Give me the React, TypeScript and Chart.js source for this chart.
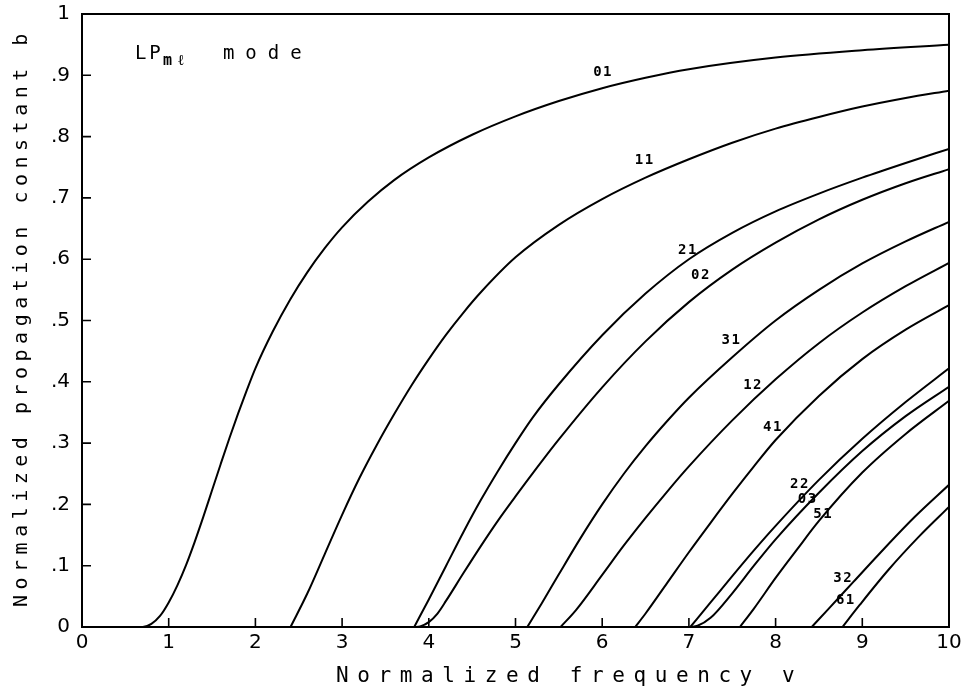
import React, { useEffect, useRef } from 'react';
import { Chart, registerables } from 'chart.js';

Chart.register(...registerables);

// ---- axis ticks ----
const xTickValues = [0, 1, 2, 3, 4, 5, 6, 7, 8, 9, 10];
const yTickLabels = ['0', '.1', '.2', '.3', '.4', '.5', '.6', '.7', '.8', '.9', '1'];

// ---- LP mode curves (normalized frequency v, propagation constant b) ----
const modeNames = ['01', '11', '21', '02', '31', '12', '41', '22', '03', '51', '32', '61'];

const v01 = [0, 0.5, 0.7, 0.8, 0.9, 1.0, 1.1, 1.2, 1.3, 1.4, 1.5, 1.6, 1.7, 1.8, 1.9, 2.0, 2.2, 2.4, 2.6, 2.8, 3.0, 3.3, 3.6, 4.0, 4.5, 5.0, 5.5, 6.0, 6.5, 7.0, 8.0, 9.0, 10];
const b01 = [0, 0, 0, 0.005, 0.018, 0.04, 0.068, 0.101, 0.139, 0.18, 0.223, 0.266, 0.308, 0.348, 0.386, 0.422, 0.482, 0.534, 0.579, 0.618, 0.652, 0.694, 0.729, 0.766, 0.803, 0.833, 0.858, 0.879, 0.896, 0.91, 0.929, 0.941, 0.95];

const v11 = [2.405, 2.6, 2.8, 3.0, 3.2, 3.4, 3.6, 3.8, 4.0, 4.2, 4.4, 4.6, 5.0, 5.5, 6.0, 6.5, 7.0, 7.5, 8.0, 8.5, 9.0, 9.5, 10];
const b11 = [0, 0.055, 0.119, 0.183, 0.243, 0.297, 0.347, 0.394, 0.437, 0.477, 0.513, 0.546, 0.603, 0.656, 0.698, 0.733, 0.763, 0.79, 0.813, 0.832, 0.849, 0.863, 0.875];

const v21 = [3.832, 4.0, 4.2, 4.4, 4.6, 4.8, 5.0, 5.2, 5.5, 6.0, 6.5, 7.0, 7.5, 8.0, 8.5, 9.0, 9.5, 10];
const b21 = [0, 0.045, 0.1, 0.155, 0.207, 0.255, 0.3, 0.342, 0.396, 0.476, 0.544, 0.6, 0.643, 0.678, 0.707, 0.733, 0.757, 0.78];

const v02 = [3.832, 3.9, 4.0, 4.1, 4.2, 4.4, 4.6, 4.8, 5.0, 5.2, 5.5, 6.0, 6.5, 7.0, 7.5, 8.0, 8.5, 9.0, 9.5, 10];
const b02 = [0, 0.001, 0.008, 0.022, 0.043, 0.088, 0.132, 0.174, 0.213, 0.251, 0.306, 0.391, 0.466, 0.53, 0.583, 0.627, 0.665, 0.697, 0.724, 0.747];

const v31 = [5.136, 5.3, 5.5, 5.75, 6.0, 6.25, 6.5, 6.75, 7.0, 7.5, 8.0, 8.5, 9.0, 9.5, 10];
const b31 = [0, 0.038, 0.086, 0.145, 0.2, 0.25, 0.295, 0.336, 0.374, 0.44, 0.5, 0.55, 0.593, 0.629, 0.661];

const v12 = [5.52, 5.7, 6.0, 6.25, 6.5, 6.75, 7.0, 7.5, 8.0, 8.5, 9.0, 9.5, 10];
const b12 = [0, 0.028, 0.085, 0.133, 0.178, 0.221, 0.262, 0.337, 0.404, 0.463, 0.513, 0.556, 0.594];

const v41 = [6.38, 6.5, 6.75, 7.0, 7.25, 7.5, 7.75, 8.0, 8.5, 9.0, 9.5, 10];
const b41 = [0, 0.022, 0.072, 0.122, 0.17, 0.217, 0.262, 0.305, 0.377, 0.437, 0.485, 0.525];

const v22 = [7.016, 7.25, 7.5, 7.75, 8.0, 8.5, 9.0, 9.5, 10];
const b22 = [0, 0.04, 0.083, 0.125, 0.165, 0.24, 0.307, 0.367, 0.422];

const v03 = [7.016, 7.1, 7.25, 7.5, 7.75, 8.0, 8.5, 9.0, 9.5, 10];
const b03 = [0, 0.002, 0.015, 0.055, 0.1, 0.143, 0.219, 0.287, 0.344, 0.392];

const v51 = [7.588, 7.75, 8.0, 8.25, 8.5, 9.0, 9.5, 10];
const b51 = [0, 0.03, 0.08, 0.127, 0.173, 0.252, 0.315, 0.369];

const v32 = [8.417, 8.6, 8.9, 9.2, 9.6, 10];
const b32 = [0, 0.028, 0.074, 0.12, 0.179, 0.232];

const v61 = [8.771, 8.97, 9.3, 9.65, 10];
const b61 = [0, 0.036, 0.093, 0.147, 0.196];

const curveV = [v01, v11, v21, v02, v31, v12, v41, v22, v03, v51, v32, v61];
const curveB = [b01, b11, b21, b02, b31, b12, b41, b22, b03, b51, b32, b61];

// ---- curve label anchors (in data units) ----
const labelV = [6.01, 6.49, 6.99, 7.14, 7.49, 7.74, 7.97, 8.28, 8.37, 8.55, 8.78, 8.81];
const labelB = [0.904, 0.762, 0.615, 0.573, 0.468, 0.395, 0.325, 0.233, 0.209, 0.184, 0.08, 0.044];

const xTitle = 'Normalized frequency v';
const yTitle = 'Normalized propagation constant b';

const overlayPlugin = {
  id: 'overlay',
  afterDraw(chart: any) {
    const { ctx, chartArea, scales } = chart;
    const { left, right, top, bottom } = chartArea;
    const x = scales.x;
    const y = scales.y;
    ctx.save();
    ctx.strokeStyle = '#000';
    ctx.fillStyle = '#000';
    ctx.lineWidth = 2;
    ctx.strokeRect(left, top, right - left, bottom - top);

    // inward tick marks
    ctx.lineWidth = 1.6;
    ctx.beginPath();
    xTickValues.forEach((t) => {
      const px = x.getPixelForValue(t);
      ctx.moveTo(px, bottom);
      ctx.lineTo(px, bottom - 9);
    });
    yTickLabels.forEach((_, i) => {
      const py = y.getPixelForValue(i / 10);
      ctx.moveTo(left, py);
      ctx.lineTo(left + 9, py);
    });
    ctx.stroke();

    // curve labels
    ctx.font = 'bold 14px "DejaVu Sans Mono"';
    (ctx as any).letterSpacing = '1.5px';
    ctx.textAlign = 'center';
    ctx.textBaseline = 'middle';
    modeNames.forEach((name, i) => {
      ctx.fillText(name, x.getPixelForValue(labelV[i]), y.getPixelForValue(labelB[i]));
    });

    // "LP_ml mode" annotation
    const tx = x.getPixelForValue(0.61);
    const ty = y.getPixelForValue(0.938);
    ctx.textAlign = 'left';
    ctx.textBaseline = 'alphabetic';
    ctx.font = '19px "DejaVu Sans Mono"';
    (ctx as any).letterSpacing = '3px';
    ctx.fillText('LP', tx, ty + 7);
    ctx.font = 'bold 15px "DejaVu Sans Mono"';
    (ctx as any).letterSpacing = '6px';
    ctx.fillText('mℓ', tx + 28, ty + 13);
    ctx.font = '19px "DejaVu Sans Mono"';
    (ctx as any).letterSpacing = '11px';
    ctx.fillText('mode', tx + 88, ty + 7);

    // axis titles
    ctx.font = '21px "DejaVu Sans Mono"';
    (ctx as any).letterSpacing = '8.6px';
    ctx.textAlign = 'left';
    ctx.textBaseline = 'middle';
    ctx.fillText(xTitle, 336, 677);

    ctx.save();
    ctx.translate(22, 0);
    ctx.rotate(-Math.PI / 2);
    ctx.font = '20px "DejaVu Sans Mono"';
    (ctx as any).letterSpacing = '5.5px';
    ctx.textAlign = 'left';
    ctx.textBaseline = 'middle';
    ctx.fillText(yTitle, -607, 0);
    ctx.restore();

    ctx.restore();
  },
};

export default function App() {
  const canvasRef = useRef<HTMLCanvasElement | null>(null);

  useEffect(() => {
    const canvas = canvasRef.current;
    if (!canvas) return;
    const datasets = curveV.map((vs, i) => ({
      label: 'LP' + modeNames[i],
      data: vs.map((vv, j) => ({ x: vv, y: curveB[i][j] })),
      borderColor: '#000',
      borderWidth: 2,
      pointRadius: 0,
      fill: false,
      cubicInterpolationMode: 'monotone' as const,
    }));
    const chart = new Chart(canvas, {
      type: 'line',
      data: { datasets },
      options: {
        responsive: false,
        animation: false,
        layout: { padding: { top: 14, right: 23, left: 0, bottom: 0 } },
        plugins: { legend: { display: false }, tooltip: { enabled: false } },
        scales: {
          x: {
            type: 'linear',
            min: 0,
            max: 10,
            afterFit: (s: any) => {
              s.height = 67;
              s.paddingLeft = 0;
              s.paddingRight = 0;
              s.paddingTop = 0;
              s.paddingBottom = 0;
            },
            afterBuildTicks: (s: any) => {
              s.ticks = xTickValues.map((v) => ({ value: v }));
            },
            ticks: {
              color: '#000',
              font: { family: 'DejaVu Sans', size: 20 },
              padding: 4,
              maxRotation: 0,
              autoSkip: false,
              callback: (v: any) => String(v),
            },
            grid: { display: false, drawTicks: false },
            border: { display: true, color: '#000', width: 2 },
          },
          y: {
            type: 'linear',
            min: 0,
            max: 1,
            afterFit: (s: any) => {
              s.width = 82;
              s.paddingLeft = 0;
              s.paddingRight = 0;
              s.paddingTop = 0;
              s.paddingBottom = 0;
            },
            afterBuildTicks: (s: any) => {
              s.ticks = yTickLabels.map((_, i) => ({ value: i / 10 }));
            },
            ticks: {
              color: '#000',
              font: { family: 'DejaVu Sans', size: 20 },
              padding: 12,
              autoSkip: false,
              callback: (v: any) => yTickLabels[Math.round(Number(v) * 10)],
            },
            grid: { display: false, drawTicks: false },
            border: { display: true, color: '#000', width: 2 },
          },
        },
      },
      plugins: [overlayPlugin],
    });
    return () => chart.destroy();
  }, []);

  return (
    <div style={{ position: 'absolute', left: 0, top: 0, width: 972, height: 694, background: '#fff' }}>
      <canvas ref={canvasRef} width={972} height={694} />
    </div>
  );
}
